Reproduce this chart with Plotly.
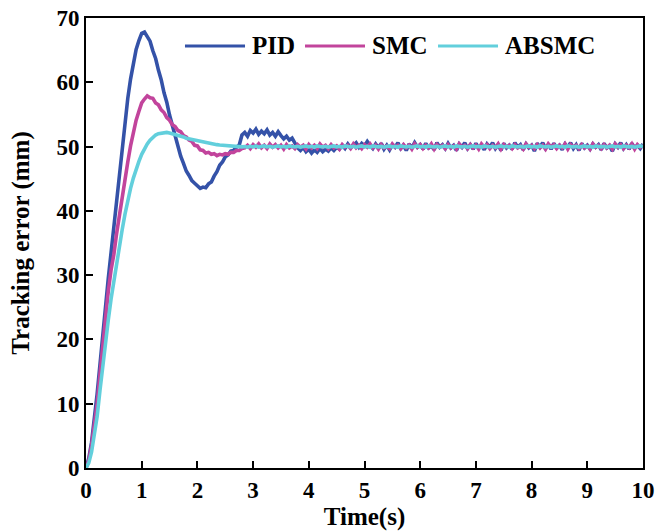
import plotly.graph_objects as go

dt = 0.05
pid = [
    0, 1.5, 4, 7.5, 11.5, 16, 21, 25.5, 29.5, 33.5,
    37.5, 41.8, 46, 50, 54, 57.5, 60.5, 63, 65.1, 66.5,
    67.6, 67.8, 67.1, 66.4, 64.9, 63.7, 61.9, 60.4, 58.4, 56.9,
    54.9, 53.3, 51.4, 50.1, 48.5, 47.4, 46.2, 45.5, 44.7, 44.3,
    43.8, 43.5, 43.7, 43.6, 44.2, 44.5, 45.4, 46.1, 47.1, 47.6,
    48.4, 48.7, 49.3, 49.4, 49.9, 50.2, 51.8, 52.2, 51.6, 52.5,
    52.1, 52.7, 51.9, 52.4, 52.0, 52.6, 51.8, 52.2, 51.6, 52.3,
    51.7, 51.2, 51.6, 51.0, 51.3, 50.4, 49.8, 49.4, 49.9, 49.2,
    49.6, 49.0, 49.5, 49.1, 49.7, 49.2, 49.6, 49.3, 49.8, 49.4,
    49.9, 49.6, 50.2, 49.7, 50.4, 49.8, 50.3, 50.6, 49.9, 50.5,
    50.1, 50.8, 50.2, 49.7, 50.4, 49.8, 50.5, 49.6, 50.2, 49.5,
    50.3, 49.9, 50.6, 49.7, 50.2, 49.4, 50.4, 49.8, 50.6, 49.9,
    50.3, 49.6, 50.5, 49.8, 50.1, 49.5, 50.6, 49.9, 50.3, 49.7,
    50.5, 49.8, 50.2, 49.4, 50.4, 49.9, 50.6, 49.7, 50.3, 49.6,
    50.5, 49.8, 50.2, 49.5, 50.4, 49.9, 50.6, 49.7, 50.3, 49.4,
    50.5, 49.8, 50.2, 49.6, 50.6, 49.9, 50.3, 49.5, 50.4, 49.8,
    50.2, 49.3, 50.5, 49.9, 50.6, 49.7, 50.3, 49.6, 50.5, 49.8,
    50.2, 49.5, 50.4, 49.9, 50.6, 49.7, 50.3, 49.4, 50.5, 49.8,
    50.2, 49.6, 50.4, 49.9, 50.3, 49.5, 50.5, 49.8, 50.1, 49.3,
    50.4, 49.9, 50.6, 49.7, 50.3, 49.6, 50.5, 49.8, 50.2, 49.7,
    50.4,
]
smc = [
    0, 1.2, 3.5, 6.5, 10, 14.5, 19, 23.5, 27.5, 30.8,
    33.2, 36.5, 39.5, 42.5, 45.1, 47.6, 50.1, 52.2, 54.1, 55.5,
    56.8, 57.4, 57.9, 57.6, 57.5, 56.8, 56.5, 55.7, 55.3, 54.5,
    54.1, 53.4, 53.1, 52.5, 52.3, 51.7, 51.5, 51.0, 50.8, 50.2,
    50.1, 49.5, 49.4, 49.0, 49.1, 48.8, 48.9, 48.6, 48.8, 48.7,
    48.9, 48.8, 49.1, 49.1, 49.4, 49.4, 49.7, 49.8, 50.2, 49.7,
    50.3, 49.9, 50.4, 49.8, 50.2, 49.7, 50.4, 49.9, 50.3, 49.8,
    50.2, 49.6, 50.3, 49.8, 50.1, 49.7, 50.3, 49.9, 50.2, 49.6,
    50.3, 49.8, 50.2, 49.7, 50.4, 49.9, 50.2, 49.7, 50.3, 49.8,
    50.1, 49.6, 50.3, 49.9, 50.2, 49.7, 50.4, 49.8, 50.2, 49.7,
    50.3, 49.9, 50.4, 49.8, 50.2, 49.6, 50.3, 49.8, 50.1, 49.7,
    50.4, 49.9, 50.2, 49.7, 50.3, 49.8, 50.2, 49.6, 50.4, 49.9,
    50.3, 49.7, 50.2, 49.8, 50.4, 49.6, 50.3, 49.9, 50.2, 49.7,
    50.3, 49.8, 50.1, 49.6, 50.4, 49.9, 50.2, 49.7, 50.3, 49.8,
    50.2, 49.6, 50.4, 49.9, 50.3, 49.7, 50.2, 49.8, 50.4, 49.6,
    50.3, 49.9, 50.2, 49.7, 50.3, 49.8, 50.1, 49.6, 50.4, 49.9,
    50.2, 49.7, 50.3, 49.8, 50.2, 49.6, 50.4, 49.9, 50.3, 49.7,
    50.2, 49.8, 50.4, 49.6, 50.3, 49.9, 50.2, 49.7, 50.3, 49.8,
    50.1, 49.6, 50.4, 49.9, 50.2, 49.7, 50.3, 49.8, 50.2, 49.6,
    50.4, 49.9, 50.3, 49.7, 50.2, 49.8, 50.4, 49.6, 50.3, 49.9,
    50.2,
]
absmc = [
    0, 0.8, 2.5, 5, 8, 12, 16, 19.5, 23, 26.3,
    29.2, 32, 34.6, 37.1, 39.5, 41.6, 43.5, 45.1, 46.5, 47.7,
    48.8, 49.7, 50.4, 51.0, 51.5, 51.8, 52.0, 52.1, 52.2, 52.2,
    52.1, 52.0, 51.9, 51.8, 51.6, 51.5, 51.3, 51.2, 51.1, 51.0,
    50.9, 50.8, 50.7, 50.6, 50.5, 50.45, 50.4, 50.3, 50.25, 50.2,
    50.15, 50.1, 50.05, 50.0, 50.0, 49.95, 49.95, 50.0, 49.9, 50.05,
    49.95, 50.1, 49.9, 50.0, 50.1, 49.95, 50.05, 49.9, 50.0, 50.1,
    49.95, 50.05, 49.9, 50.1, 50.0, 49.95, 50.05, 49.9, 50.0, 50.1,
    49.95, 50.05, 49.9, 50.1, 50.0, 49.95, 50.05, 49.9, 50.0, 50.1,
    49.95, 50.05, 49.9, 50.1, 50.0, 49.95, 50.05, 49.9, 50.0, 50.1,
    49.95, 50.05, 49.9, 50.1, 50.0, 49.95, 50.05, 49.9, 50.0, 50.1,
    49.95, 50.05, 49.9, 50.1, 50.0, 49.95, 50.05, 49.9, 50.0, 50.1,
    49.95, 50.05, 49.9, 50.1, 50.0, 49.95, 50.05, 49.9, 50.0, 50.1,
    49.95, 50.05, 49.9, 50.1, 50.0, 49.95, 50.05, 49.9, 50.0, 50.1,
    49.95, 50.05, 49.9, 50.1, 50.0, 49.95, 50.05, 49.9, 50.0, 50.1,
    49.95, 50.05, 49.9, 50.1, 50.0, 49.95, 50.05, 49.9, 50.0, 50.1,
    49.95, 50.05, 49.9, 50.1, 50.0, 49.95, 50.05, 49.9, 50.0, 50.1,
    49.95, 50.05, 49.9, 50.1, 50.0, 49.95, 50.05, 49.9, 50.0, 50.1,
    49.95, 50.05, 49.9, 50.1, 50.0, 49.95, 50.05, 49.9, 50.0, 50.1,
    49.95, 50.05, 49.9, 50.1, 50.0, 49.95, 50.05, 49.9, 50.0, 50.1,
    50.0,
]
series_names = ["PID", "SMC", "ABSMC"]
series_colors = ["#3452a8", "#c2449c", "#62cfdc"]
x_ticks = list(range(0, 11))
y_ticks = list(range(0, 71, 10))

def times(n):
    return [round(i * dt, 2) for i in range(n)]

FONT = "Liberation Serif"
fig = go.Figure()
for name, ys, col in zip(series_names, [pid, smc, absmc], series_colors):
    fig.add_trace(go.Scatter(x=times(len(ys)), y=ys, mode="lines", name=name,
                             line=dict(color=col, width=3.6), showlegend=False))

# custom legend (line samples + labels) placed in paper coords
leg_items = [(0.1777, 0.2855, 0.2944), (0.3932, 0.5009, 0.5099), (0.6320, 0.7397, 0.7487)]
leg_y = 0.938
shapes, annos = [], []
for (x0, x1, xt), name, col in zip(leg_items, series_names, series_colors):
    shapes.append(dict(type="line", xref="paper", yref="paper", x0=x0, x1=x1,
                       y0=leg_y, y1=leg_y, line=dict(color=col, width=3)))
    annos.append(dict(xref="paper", yref="paper", x=xt, y=leg_y, text=f"<b>{name}</b>",
                      showarrow=False, xanchor="left", yanchor="middle",
                      font=dict(family=FONT, size=25, color="black")))

fig.update_layout(
    width=656, height=531,
    margin=dict(l=86, r=13, t=18, b=63),
    paper_bgcolor="white", plot_bgcolor="white",
    shapes=shapes, annotations=annos,
    font=dict(family=FONT, color="black"),
)
fig.update_xaxes(range=[0, 10], tickvals=x_ticks, ticktext=[f"<b>{v}</b>" for v in x_ticks],
                 showline=True, mirror=True, linecolor="black", linewidth=2,
                 ticks="inside", ticklen=7, tickwidth=2, tickcolor="black",
                 showgrid=False, zeroline=False, automargin=False,
                 tickfont=dict(family=FONT, size=23, color="black"),
                 title=dict(text="<b>Time(s)</b>", font=dict(family=FONT, size=25), standoff=1))
fig.update_yaxes(range=[0, 70], tickvals=y_ticks, ticktext=[f"<b>{v}</b>" for v in y_ticks],
                 showline=True, mirror=True, linecolor="black", linewidth=2,
                 ticks="inside", ticklen=7, tickwidth=2, tickcolor="black",
                 showgrid=False, zeroline=False, automargin=False,
                 tickfont=dict(family=FONT, size=23, color="black"),
                 title=dict(text="<b>Tracking error (mm)</b>", font=dict(family=FONT, size=25), standoff=20))

fig.write_html("out.html")
